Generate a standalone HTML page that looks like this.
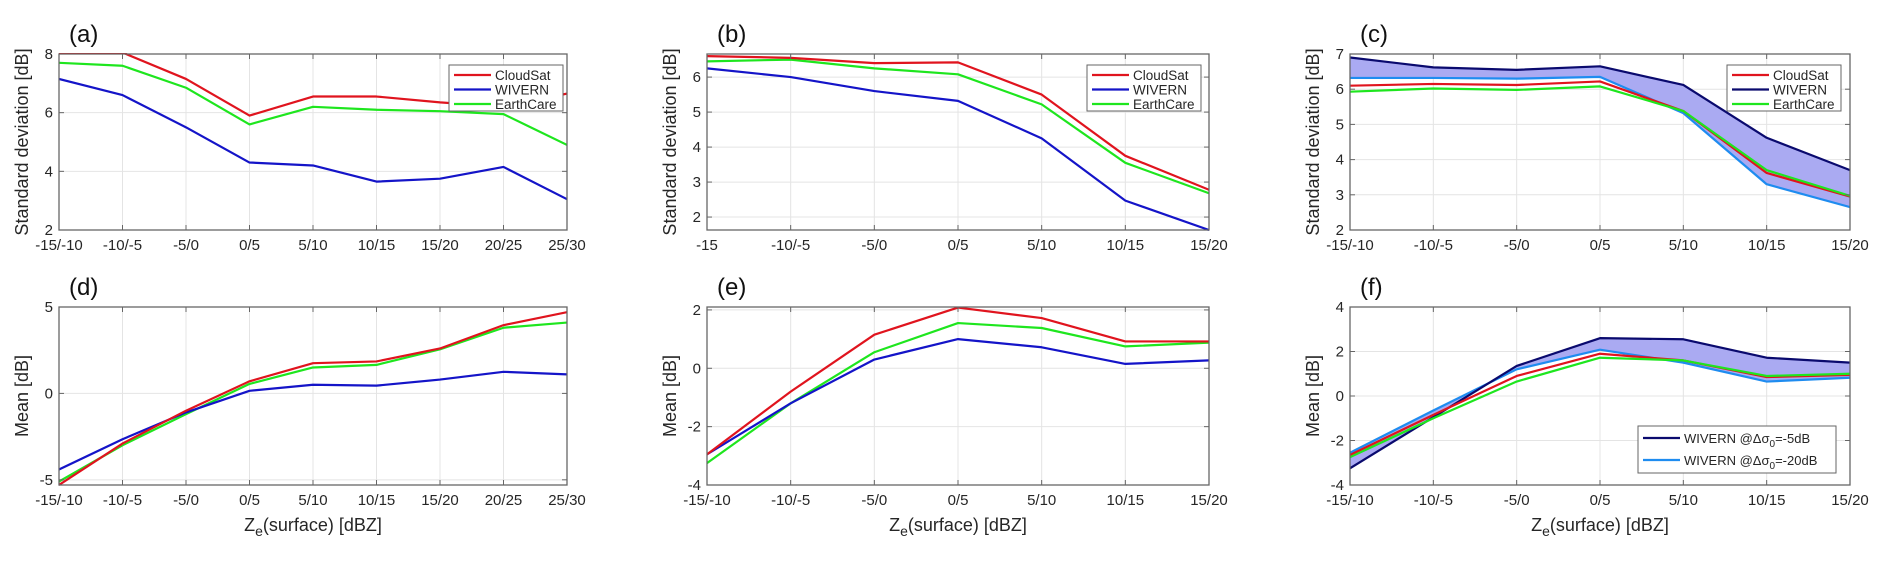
<!DOCTYPE html>
<html><head><meta charset="utf-8"><style>
body{margin:0;background:#fff}
svg{display:block;font-family:"Liberation Sans","DejaVu Sans",sans-serif}
</style></head><body>
<svg id="fig" width="1892" height="563" viewBox="0 0 1892 563" xmlns="http://www.w3.org/2000/svg"></svg>
<script>
const catsA = ["-15/-10","-10/-5","-5/0","0/5","5/10","10/15","15/20","20/25","25/30"];
const catsB = ["-15","-10/-5","-5/0","0/5","5/10","10/15","15/20"];
const catsC = ["-15/-10","-10/-5","-5/0","0/5","5/10","10/15","15/20"];
const aCloud = [8.05,8.05,7.15,5.9,6.55,6.55,6.35,6.2,6.65];
const aWivern = [7.15,6.6,5.5,4.3,4.2,3.65,3.75,4.15,3.05];
const aEarth = [7.7,7.6,6.85,5.6,6.2,6.1,6.05,5.95,4.9];
const bCloud = [6.6,6.55,6.4,6.42,5.5,3.75,2.78];
const bWivern = [6.25,6.0,5.6,5.32,4.25,2.47,1.63];
const bEarth = [6.45,6.5,6.25,6.08,5.22,3.55,2.68];
const cW5 = [6.9,6.62,6.55,6.65,6.12,4.62,3.7];
const cW20 = [6.32,6.32,6.3,6.35,5.32,3.3,2.65];
const cCloud = [6.1,6.15,6.12,6.22,5.38,3.62,2.95];
const cEarth = [5.93,6.02,5.98,6.08,5.38,3.7,2.97];
const dCloud = [-5.3,-2.9,-1.0,0.7,1.75,1.85,2.6,3.95,4.7];
const dEarth = [-5.1,-3.0,-1.2,0.55,1.5,1.65,2.55,3.8,4.1];
const dWivern = [-4.4,-2.65,-1.1,0.15,0.5,0.45,0.8,1.25,1.1];
const eCloud = [-2.95,-0.8,1.15,2.08,1.72,0.92,0.92];
const eEarth = [-3.25,-1.2,0.55,1.55,1.38,0.75,0.88];
const eWivern = [-2.95,-1.2,0.3,1.0,0.72,0.15,0.27];
const fW5 = [-3.25,-0.95,1.35,2.6,2.55,1.72,1.5];
const fW20 = [-2.55,-0.65,1.2,2.08,1.5,0.65,0.82];
const fCloud = [-2.65,-0.85,0.9,1.9,1.6,0.85,0.95];
const fEarth = [-2.75,-1.0,0.65,1.72,1.6,0.9,1.0];
const ticksA = [2,4,6,8];
const ticksB = [2,3,4,5,6];
const ticksC = [2,3,4,5,6,7];
const ticksD = [-5,0,5];
const ticksE = [-4,-2,0,2];
const ticksF = [-4,-2,0,2,4];

const RED="#e0141e",BLUE="#1414c8",GREEN="#1ee61e",NAVY="#0a0a6e",LBLUE="#1e8cf0";
const svg=document.getElementById('fig');
const NS="http://www.w3.org/2000/svg";
function mk(tag,attrs,parent){const e=document.createElementNS(NS,tag);for(const k in attrs)e.setAttribute(k,attrs[k]);(parent||svg).appendChild(e);return e;}

function panel(p){
  const g=mk('g',{});
  
  
  const n=p.cats.length;
  const xs=i=>p.x0+(p.x1-p.x0)*i/(n-1);
  const ys=v=>p.y1-(v-p.ymin)/(p.ymax-p.ymin)*(p.y1-p.y0);
  // grid
  p.cats.forEach((c,i)=>{const l=mk('line',{x1:xs(i),x2:xs(i),y1:p.y0,y2:p.y1,stroke:'#e4e4e4','stroke-width':1},g);
    });
  p.ticks.forEach(t=>{const l=mk('line',{x1:p.x0,x2:p.x1,y1:ys(t),y2:ys(t),stroke:'#e4e4e4','stroke-width':1},g);
    });
  // fill
  if(p.fill){
    let pts=p.fill[0].map((v,i)=>xs(i)+','+ys(v));
    pts=pts.concat(p.fill[1].map((v,i)=>xs(i)+','+ys(v)).reverse());
    const f=mk('polygon',{points:pts.join(' '),fill:'#aaaaf2',stroke:'none'},g);
    
  }
  // series
  const clip='clip-'+p.id;
  const cp=mk('clipPath',{id:clip},g);mk('rect',{x:p.x0,y:p.y0-1,width:p.x1-p.x0,height:p.y1-p.y0+2},cp);
  p.series.forEach(s=>{
    const pl=mk('polyline',{points:s.v.map((v,i)=>xs(i)+','+ys(v)).join(' '),fill:'none',stroke:s.c,'stroke-width':2.2,'stroke-linejoin':'round','clip-path':'url(#'+clip+')'},g);
    
  });
  // axes box
  const r=mk('rect',{x:p.x0,y:p.y0,width:p.x1-p.x0,height:p.y1-p.y0,fill:'none',stroke:'#666','stroke-width':1.3},g);
  
  // ticks
  p.cats.forEach((c,i)=>{
    mk('line',{x1:xs(i),x2:xs(i),y1:p.y1,y2:p.y1-5,stroke:'#666'},g);
    mk('line',{x1:xs(i),x2:xs(i),y1:p.y0,y2:p.y0+5,stroke:'#666'},g);
    const t=mk('text',{x:xs(i),y:p.y1+20,'text-anchor':'middle','font-size':15,fill:'#262626'},g);t.textContent=c;
    
  });
  p.ticks.forEach(v=>{
    mk('line',{x1:p.x0,x2:p.x0+5,y1:ys(v),y2:ys(v),stroke:'#666'},g);
    mk('line',{x1:p.x1,x2:p.x1-5,y1:ys(v),y2:ys(v),stroke:'#666'},g);
    const t=mk('text',{x:p.x0-6,y:ys(v)+5,'text-anchor':'end','font-size':15,fill:'#262626'},g);t.textContent=v;
    
  });
  const yt=mk('text',{x:0,y:0,transform:`translate(${p.x0-31},${(p.y0+p.y1)/2}) rotate(-90)`,'text-anchor':'middle','font-size':18,fill:'#262626'},g);
  yt.textContent=p.ytitle;
  if(p.xtitle){
    const xt=mk('text',{x:(p.x0+p.x1)/2,y:p.y1+46,'text-anchor':'middle','font-size':18,fill:'#262626'},g);
    xt.innerHTML='Z<tspan dy="5" font-size="14">e</tspan><tspan dy="-5">(surface) [dBZ]</tspan>';
    
  }
  const lb=mk('text',{x:p.x0+10,y:p.y0-12,'font-size':24,fill:'#111'},g);lb.textContent='('+p.id+')';
  
  if(p.legend){
    const L=p.legend;
    const lg=mk('g',{},g);
    mk('rect',{x:L.x,y:L.y,width:L.w,height:L.h,fill:'#fff',stroke:'#666','stroke-width':1},lg);
    L.items.forEach((it,k)=>{
      const yy=L.y+L.pad+k*L.dy;
      const e=mk('g',{},lg);
      mk('line',{x1:L.x+5,x2:L.x+42,y1:yy,y2:yy,stroke:it.c,'stroke-width':2.2},e);
      const t=mk('text',{x:L.x+46,y:yy+5,'font-size':L.fs,fill:'#262626'},e);t.innerHTML=it.t;
    });
  }
}
const top0=54,top1=230,bot0=307,bot1=485;
const lg3=x=>({x:x,y:65,w:114,h:46,pad:10,dy:14.5,fs:13.5,items:[{c:RED,t:'CloudSat'},{c:BLUE,t:'WIVERN'},{c:GREEN,t:'EarthCare'}]});
panel({id:'a',x0:59,x1:567,y0:top0,y1:top1,ymin:2,ymax:8,cats:catsA,ticks:ticksA,ytitle:'Standard deviation [dB]',
  series:[{v:aEarth,c:GREEN,name:'earthcare'},{v:aWivern,c:BLUE,name:'wivern'},{v:aCloud,c:RED,name:'cloudsat'}],legend:lg3(449)});
panel({id:'b',x0:707,x1:1209,y0:top0,y1:top1,ymin:1.63,ymax:6.66,cats:catsB,ticks:ticksB,ytitle:'Standard deviation [dB]',
  series:[{v:bEarth,c:GREEN,name:'earthcare'},{v:bWivern,c:BLUE,name:'wivern'},{v:bCloud,c:RED,name:'cloudsat'}],legend:lg3(1087)});
panel({id:'c',x0:1350,x1:1850,y0:top0,y1:top1,ymin:2,ymax:7,cats:catsC,ticks:ticksC,ytitle:'Standard deviation [dB]',fill:[cW5,cW20],
  series:[{v:cW20,c:LBLUE,name:'wivern-20db'},{v:cW5,c:NAVY,name:'wivern-5db'},{v:cCloud,c:RED,name:'cloudsat'},{v:cEarth,c:GREEN,name:'earthcare'}],
  legend:{x:1727,y:65,w:114,h:46,pad:10,dy:14.5,fs:13.5,items:[{c:RED,t:'CloudSat'},{c:NAVY,t:'WIVERN'},{c:GREEN,t:'EarthCare'}]}});
panel({id:'d',x0:59,x1:567,y0:bot0,y1:bot1,ymin:-5.3,ymax:5,cats:catsA,ticks:ticksD,ytitle:'Mean [dB]',xtitle:true,
  series:[{v:dEarth,c:GREEN,name:'earthcare'},{v:dWivern,c:BLUE,name:'wivern'},{v:dCloud,c:RED,name:'cloudsat'}]});
panel({id:'e',x0:707,x1:1209,y0:bot0,y1:bot1,ymin:-4,ymax:2.1,cats:catsB.map((c,i)=>i==0?'-15/-10':c),ticks:ticksE,ytitle:'Mean [dB]',xtitle:true,
  series:[{v:eEarth,c:GREEN,name:'earthcare'},{v:eWivern,c:BLUE,name:'wivern'},{v:eCloud,c:RED,name:'cloudsat'}]});
panel({id:'f',x0:1350,x1:1850,y0:bot0,y1:bot1,ymin:-4,ymax:4,cats:catsC,ticks:ticksF,ytitle:'Mean [dB]',xtitle:true,fill:[fW5,fW20],
  series:[{v:fW20,c:LBLUE,name:'wivern-20db'},{v:fW5,c:NAVY,name:'wivern-5db'},{v:fCloud,c:RED,name:'cloudsat'},{v:fEarth,c:GREEN,name:'earthcare'}],
  legend:{x:1638,y:426,w:198,h:47,pad:12,dy:22,fs:13,items:[{c:NAVY,t:'WIVERN @\u0394\u03c3<tspan dy="4" font-size="10">0</tspan><tspan dy="-4">=-5dB</tspan>'},{c:LBLUE,t:'WIVERN @\u0394\u03c3<tspan dy="4" font-size="10">0</tspan><tspan dy="-4">=-20dB</tspan>'}]}});
</script>
</body></html>
